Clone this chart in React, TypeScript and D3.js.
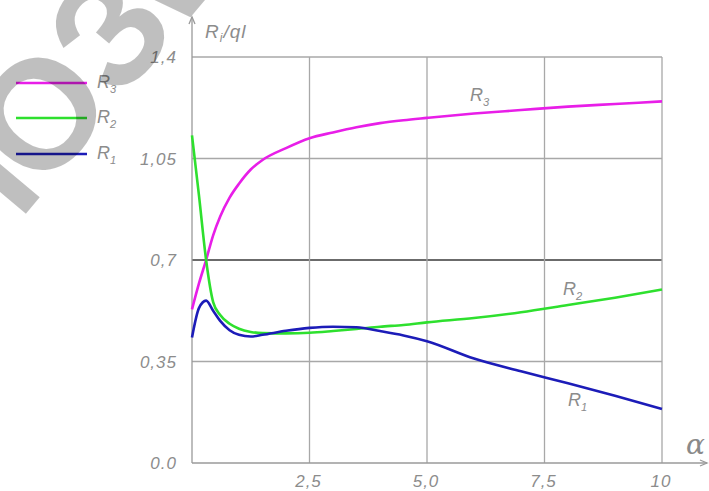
import React, { useEffect, useRef } from "react";
import * as d3 from "d3";

// alpha values (x axis)
const alpha = [0, 0.15, 0.3, 0.45, 0.6, 0.8, 1, 1.25, 1.5, 2, 2.5, 3, 3.5, 4, 4.5, 5, 6, 7, 8, 9, 10];
// R1/ql, R2/ql, R3/ql
const r1 = [0.433, 0.535, 0.56, 0.525, 0.49, 0.458, 0.442, 0.436, 0.442, 0.456, 0.466, 0.47, 0.468, 0.455, 0.44, 0.42, 0.36, 0.316, 0.275, 0.232, 0.186];
const r2 = [1.13, 0.92, 0.7, 0.555, 0.51, 0.48, 0.463, 0.452, 0.448, 0.447, 0.449, 0.455, 0.462, 0.47, 0.476, 0.485, 0.5, 0.52, 0.545, 0.57, 0.598];
const r3 = [0.53, 0.62, 0.7, 0.785, 0.85, 0.915, 0.963, 1.012, 1.045, 1.086, 1.12, 1.14, 1.158, 1.172, 1.182, 1.19, 1.205, 1.217, 1.229, 1.238, 1.247];

const yTicks = [0, 0.35, 0.7, 1.05, 1.4];
const yTickLabels = ["0.0", "0,35", "0,7", "1,05", "1,4"];
const xTicks = [2.5, 5, 7.5, 10];
const xTickLabels = ["2,5", "5,0", "7,5", "10"];

const seriesNames = ["3", "2", "1"];
const seriesColors = ["#e81ee8", "#2ee02e", "#1c1cb8"];

const watermark = ["Л", "О", "З", "W"];

const TXT = "#8c8c8c";
const FONT = "'Liberation Sans', Arial, sans-serif";

export default function App() {
  const ref = useRef<SVGSVGElement>(null);

  useEffect(() => {
    const svg = d3.select(ref.current);
    svg.selectAll("*").remove();

    const x = d3.scaleLinear().domain([0, 10]).range([192, 662]);
    const y = d3.scaleLinear().domain([0, 1.4]).range([463, 57]);

    // grid
    const grid = svg.append("g");
    grid
      .selectAll("line.h")
      .data(yTicks.slice(1))
      .join("line")
      .attr("x1", x(0))
      .attr("x2", x(10))
      .attr("y1", (d) => y(d))
      .attr("y2", (d) => y(d))
      .attr("stroke", (d) => (d === 0.7 ? "#3a3a3a" : "#a8a8a8"))
      .attr("stroke-width", 1.3);
    grid
      .selectAll("line.v")
      .data(xTicks)
      .join("line")
      .attr("x1", (d) => x(d))
      .attr("x2", (d) => x(d))
      .attr("y1", y(0))
      .attr("y2", y(1.4))
      .attr("stroke", "#a8a8a8")
      .attr("stroke-width", 1.3);

    // axes with arrows
    const ax = svg.append("g").attr("stroke", "#9a9a9a").attr("stroke-width", 1.3).attr("fill", "none");
    ax.append("line").attr("x1", x(0)).attr("x2", x(0)).attr("y1", y(0)).attr("y2", 17);
    ax.append("path").attr("d", `M${x(0) - 3},${24} L${x(0)},${17} L${x(0) + 3},${24}`);
    ax.append("line").attr("x1", x(0)).attr("x2", 707).attr("y1", y(0)).attr("y2", y(0));
    ax.append("path").attr("d", `M700,${y(0) - 3} L707,${y(0)} L700,${y(0) + 3}`);

    // tick labels
    svg
      .append("g")
      .selectAll("text")
      .data(yTicks)
      .join("text")
      .attr("x", 177)
      .attr("y", (d) => y(d) + 6)
      .attr("text-anchor", "end")
      .attr("font-size", 17)
      .attr("font-style", "italic")
      .attr("letter-spacing", 1)
      .attr("font-family", FONT)
      .attr("fill", TXT)
      .text((d, i) => yTickLabels[i]);
    svg
      .append("g")
      .selectAll("text")
      .data(xTicks)
      .join("text")
      .attr("x", (d) => x(d) - 1)
      .attr("y", 487)
      .attr("text-anchor", "middle")
      .attr("font-size", 17)
      .attr("font-style", "italic")
      .attr("letter-spacing", 1)
      .attr("font-family", FONT)
      .attr("fill", TXT)
      .text((d, i) => xTickLabels[i]);

    // axis titles
    const yt = svg
      .append("text")
      .attr("x", 205)
      .attr("y", 38)
      .attr("font-size", 19)
      .attr("font-style", "italic")
      .attr("letter-spacing", 1)
      .attr("font-family", FONT)
      .attr("fill", TXT);
    yt.append("tspan").text("R");
    yt.append("tspan").attr("font-size", 12).attr("dy", 4).text("i");
    yt.append("tspan").attr("dy", -4).text("/ql");
    svg
      .append("text")
      .attr("x", 686)
      .attr("y", 454)
      .attr("font-size", 28)
      .attr("font-style", "italic")
      .attr("font-family", "'DejaVu Serif', serif")
      .attr("fill", "#8a8a8a")
      .text("α");

    // curves
    const series = [r3, r2, r1];
    const line = d3
      .line<number>()
      .x((d, i) => x(alpha[i]))
      .y((d) => y(d))
      .curve(d3.curveMonotoneX);
    svg
      .append("g")
      .selectAll("path")
      .data(series)
      .join("path")
      .attr("d", (d) => line(d))
      .attr("fill", "none")
      .attr("stroke", (d, i) => seriesColors[i])
      .attr("stroke-width", 2.6)
      .attr("stroke-linejoin", "round");

    // curve labels
    const labelPos = [
      [470, 101],
      [563, 295],
      [568, 406],
    ];
    const addR = (g: any, px: number, py: number, sub: string, size: number) => {
      const t = g
        .append("text")
        .attr("x", px)
        .attr("y", py)
        .attr("font-size", size)
        .attr("font-style", "italic")
        .attr("font-family", FONT)
        .attr("fill", TXT);
      t.append("tspan").text("R");
      t.append("tspan").attr("font-size", size * 0.62).attr("dy", size * 0.28).text(sub);
    };
    seriesNames.forEach((s, i) => addR(svg, labelPos[i][0], labelPos[i][1], s, 18));

    // legend
    const legY = [83, 118, 154];
    const leg = svg.append("g");
    seriesNames.forEach((s, i) => {
      leg
        .append("line")
        .attr("x1", 16)
        .attr("x2", 87)
        .attr("y1", legY[i])
        .attr("y2", legY[i])
        .attr("stroke", seriesColors[i])
        .attr("stroke-width", 2.6);
      addR(leg, 97, legY[i] + 5, s, 18);
    });

    // watermark, one glyph at a time along a slanted baseline
    const wm = svg
      .append("g")
      .attr("transform", "translate(38,112) rotate(-50)")
      .attr("fill", "#000")
      .attr("fill-opacity", 0.25)
      .attr("font-family", "'Liberation Sans', sans-serif")
      .attr("font-weight", "bold")
      .attr("font-size", 155)
      .attr("text-anchor", "middle");
    watermark.forEach((c, i) => {
      wm.append("text").attr("x", (i - 1) * 108).attr("y", 56).text(c);
    });
  }, []);

  return (
    <svg
      ref={ref}
      width={709}
      height={491}
      style={{ position: "absolute", left: 0, top: 0, background: "#fff" }}
    />
  );
}
